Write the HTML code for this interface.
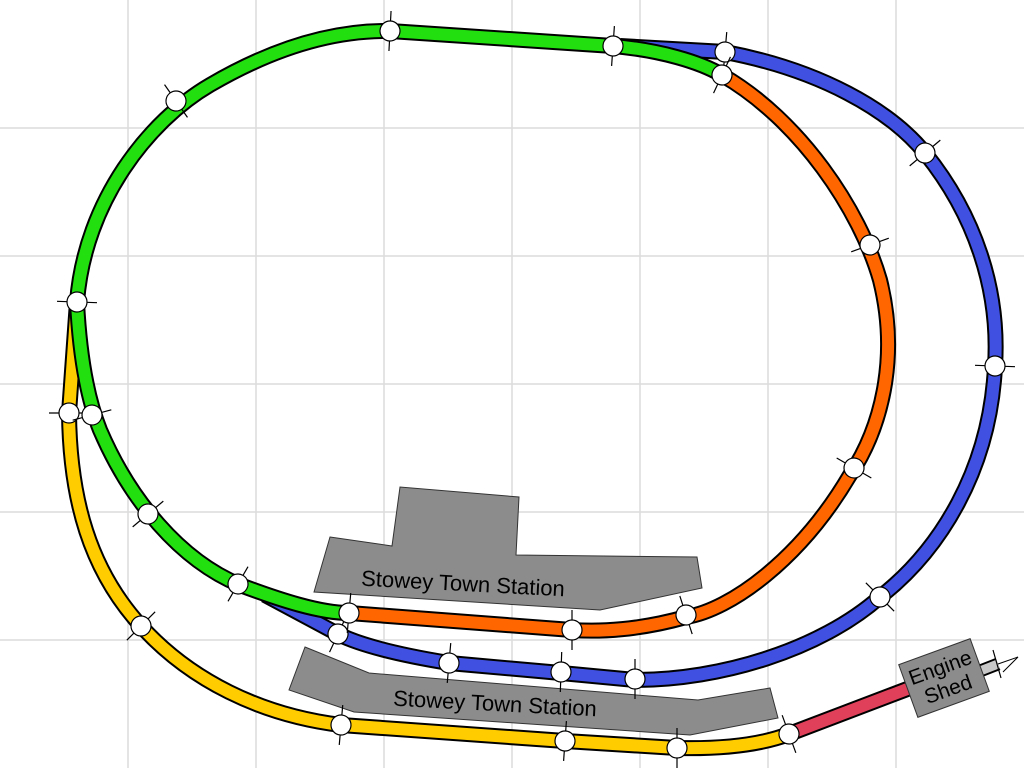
<!DOCTYPE html>
<html><head><meta charset="utf-8"><style>html,body{margin:0;padding:0;background:#fff}svg{display:block}</style></head>
<body>
<svg width="1024" height="768" viewBox="0 0 1024 768" xmlns="http://www.w3.org/2000/svg" font-family="Liberation Sans, sans-serif">
<g stroke="#dcdcdc" stroke-width="1.5">
<line x1="128" y1="0" x2="128" y2="768"/><line x1="256" y1="0" x2="256" y2="768"/><line x1="384" y1="0" x2="384" y2="768"/><line x1="512" y1="0" x2="512" y2="768"/><line x1="640" y1="0" x2="640" y2="768"/><line x1="768" y1="0" x2="768" y2="768"/><line x1="896" y1="0" x2="896" y2="768"/>
<line x1="0" y1="128" x2="1024" y2="128"/><line x1="0" y1="256" x2="1024" y2="256"/><line x1="0" y1="384" x2="1024" y2="384"/><line x1="0" y1="512" x2="1024" y2="512"/><line x1="0" y1="640" x2="1024" y2="640"/>
</g>
<polygon points="330,537 392,546 400,487 519,497 516,555 697,557 702,588 600,610 314,592" fill="#8c8c8c" stroke="#333" stroke-width="1"/>
<text x="463" y="591" font-size="22" text-anchor="middle" transform="rotate(3 463 584)">Stowey Town Station</text>
<polygon points="305,647 369,673 698,700 770,688 778,718 690,735 354,712 289,690" fill="#8c8c8c" stroke="#333" stroke-width="1"/>
<text x="495" y="711" font-size="22" text-anchor="middle" transform="rotate(3 495 704)">Stowey Town Station</text>
<g fill="none" stroke-linecap="butt">
<g id="t">
<path id="blue" d="M620,46 L725,52 C820,70 890,110 925,153 C975,215 1000,290 995,366 C990,470 940,550 880,597 C820,650 720,680 635,680 L561,673 L449,663 C400,655 360,645 338,634 L265,595"/>
<path id="yel" d="M77,302 L69,413 C70,500 90,570 141,626 C190,680 260,715 341,725 L565,741 L677,748 C720,749 760,745 789,734"/>
<path id="red" d="M789,734 L910,688"/>
<path id="gtop" d="M77,302 C85,200 150,120 210,85 C270,50 330,30 390,31 L613,46 C660,50 700,62 722,75"/>
<path id="glow" d="M77,302 C80,360 88,400 100,430 C130,500 180,560 240,585 C280,600 320,613 349,613"/>
<path id="or" d="M722,75 C800,120 860,210 880,280 C900,360 880,430 850,475 C800,560 730,610 686,617 C640,630 600,632 572,630 L349,613"/>
</g>
<path d="M975,673 L998,664" stroke="#000" stroke-width="13"/><path d="M975,673 L998,664" stroke="#c8c8c8" stroke-width="9"/>
<use href="#yel" stroke="#000" stroke-width="16"/><use href="#yel" stroke="#ffcc00" stroke-width="12"/>
<use href="#red" stroke="#000" stroke-width="16"/><use href="#red" stroke="#e0405a" stroke-width="12"/>
<use href="#blue" stroke="#000" stroke-width="16"/><use href="#blue" stroke="#4050e0" stroke-width="12"/>
<use href="#or" stroke="#000" stroke-width="16"/><use href="#or" stroke="#ff6600" stroke-width="12"/>
<use href="#gtop" stroke="#000" stroke-width="16"/><use href="#gtop" stroke="#22e010" stroke-width="12"/>
<use href="#glow" stroke="#000" stroke-width="16"/><use href="#glow" stroke="#22e010" stroke-width="12"/>
</g>
<path d="M998,664 L1018,657 L1003,672" fill="#fff" stroke="#000" stroke-width="1"/>
<g transform="translate(944,678) rotate(-20)">
<rect x="-38" y="-28" width="76" height="56" fill="#8c8c8c" stroke="#333" stroke-width="1"/>
<text x="0" y="-4" font-size="21" text-anchor="middle">Engine</text>
<text x="0" y="19" font-size="21" text-anchor="middle">Shed</text>
</g>
<g id="nodes" stroke="#000" stroke-width="1.2" fill="#fff">
<g transform="translate(390,31) rotate(93)"><line x1="-20" y1="0" x2="20" y2="0"/><circle r="10"/></g>
<g transform="translate(613,46) rotate(94)"><line x1="-20" y1="0" x2="20" y2="0"/><circle r="10"/></g>
<g transform="translate(725,52) rotate(95)"><line x1="-20" y1="0" x2="20" y2="0"/><circle r="10"/></g>
<g transform="translate(722,75) rotate(115)"><line x1="-20" y1="0" x2="20" y2="0"/><circle r="10"/></g>
<g transform="translate(176,101) rotate(55)"><line x1="-20" y1="0" x2="20" y2="0"/><circle r="10"/></g>
<g transform="translate(925,153) rotate(-40)"><line x1="-20" y1="0" x2="20" y2="0"/><circle r="10"/></g>
<g transform="translate(870,245) rotate(-20)"><line x1="-20" y1="0" x2="20" y2="0"/><circle r="10"/></g>
<g transform="translate(995,366) rotate(2)"><line x1="-20" y1="0" x2="20" y2="0"/><circle r="10"/></g>
<g transform="translate(77,302) rotate(2)"><line x1="-20" y1="0" x2="20" y2="0"/><circle r="10"/></g>
<g transform="translate(69,413) rotate(0)"><line x1="-20" y1="0" x2="20" y2="0"/><circle r="10"/></g>
<g transform="translate(92,415) rotate(-15)"><line x1="-20" y1="0" x2="20" y2="0"/><circle r="10"/></g>
<g transform="translate(148,514) rotate(-40)"><line x1="-20" y1="0" x2="20" y2="0"/><circle r="10"/></g>
<g transform="translate(238,584) rotate(-60)"><line x1="-20" y1="0" x2="20" y2="0"/><circle r="10"/></g>
<g transform="translate(854,468) rotate(30)"><line x1="-20" y1="0" x2="20" y2="0"/><circle r="10"/></g>
<g transform="translate(880,597) rotate(45)"><line x1="-20" y1="0" x2="20" y2="0"/><circle r="10"/></g>
<g transform="translate(686,615) rotate(72)"><line x1="-20" y1="0" x2="20" y2="0"/><circle r="10"/></g>
<g transform="translate(572,630) rotate(90)"><line x1="-20" y1="0" x2="20" y2="0"/><circle r="10"/></g>
<g transform="translate(449,663) rotate(95)"><line x1="-20" y1="0" x2="20" y2="0"/><circle r="10"/></g>
<g transform="translate(561,672) rotate(92)"><line x1="-20" y1="0" x2="20" y2="0"/><circle r="10"/></g>
<g transform="translate(635,679) rotate(90)"><line x1="-20" y1="0" x2="20" y2="0"/><circle r="10"/></g>
<g transform="translate(141,626) rotate(-45)"><line x1="-20" y1="0" x2="20" y2="0"/><circle r="10"/></g>
<g transform="translate(341,725) rotate(95)"><line x1="-20" y1="0" x2="20" y2="0"/><circle r="10"/></g>
<g transform="translate(565,741) rotate(94)"><line x1="-20" y1="0" x2="20" y2="0"/><circle r="10"/></g>
<g transform="translate(677,748) rotate(90)"><line x1="-20" y1="0" x2="20" y2="0"/><circle r="10"/></g>
<g transform="translate(789,734) rotate(70)"><line x1="-20" y1="0" x2="20" y2="0"/><circle r="10"/></g>
<g transform="translate(338,634) rotate(-65)"><line x1="-20" y1="0" x2="20" y2="0"/><circle r="10"/></g>
<g transform="translate(349,613) rotate(95)"><line x1="-20" y1="0" x2="20" y2="0"/><circle r="10"/></g>
<line x1="993" y1="650" x2="1001" y2="678"/>
</g>
</svg>
</body></html>
